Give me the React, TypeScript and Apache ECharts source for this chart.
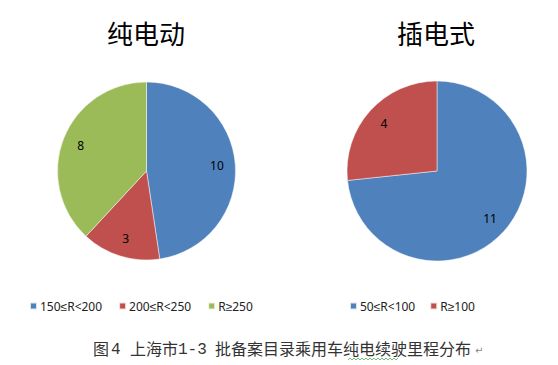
import React, { useEffect, useRef } from 'react';
import * as echarts from 'echarts';

const bevCategories = ['150≤R<200', '200≤R<250', 'R≥250'];
const bevValues = [10, 3, 8];
const phevCategories = ['50≤R<100', 'R≥100'];
const phevValues = [11, 4];
const bevColors = ['#4F81BD', '#C0504D', '#9BBB59'];
const phevColors = ['#4F81BD', '#C0504D'];
const titles = ['纯电动', '插电式'];
const captionParts = ['图', '4', '上海市', '1-3', '批备案目录乘用车纯电续驶里程分布'];

const CJK = '"Noto Sans CJK SC", "Noto Sans", sans-serif';
const MONO = '"Liberation Mono", "DejaVu Sans Mono", monospace';

function pieSeries(name: string, cats: string[], vals: number[], colors: string[], center: number[], r: number) {
  const data = cats.map((c, i) => ({ name: c, value: vals[i], itemStyle: { color: colors[i] } }));
  return [
    {
      type: 'pie',
      name,
      center,
      radius: r,
      startAngle: 90,
      clockwise: true,
      avoidLabelOverlap: false,
      label: { show: false },
      labelLine: { show: false },
      itemStyle: { borderColor: 'rgba(255,255,255,0.8)', borderWidth: 0.6 },
      emphasis: { disabled: true },
      data,
    },
    {
      type: 'pie',
      name: name + '-labels',
      center,
      radius: [r * 0.52, r],
      startAngle: 90,
      clockwise: true,
      silent: true,
      avoidLabelOverlap: false,
      label: {
        show: true,
        position: 'inside',
        formatter: '{c}',
        color: '#000',
        fontSize: 12,
        fontFamily: '"Noto Sans", sans-serif',
      },
      labelLine: { show: false },
      itemStyle: { color: 'rgba(0,0,0,0)', borderWidth: 0 },
      emphasis: { disabled: true },
      data: cats.map((c, i) => ({ name: c, value: vals[i] })),
    },
  ];
}

export default function App() {
  const ref = useRef<HTMLDivElement>(null);
  useEffect(() => {
    if (!ref.current) return;
    const chart = echarts.init(ref.current, null, { renderer: 'svg' });
    const wave: number[][] = [];
    for (let i = 0; i <= 25; i++) {
      wave.push([348 + i * 2, 359 + (i % 2 === 0 ? 1 : -1)]);
    }
    const captionX = [93, 111, 130, 178, 215];
    const captionY = [348, 350, 348, 350, 348];
    const captionFont = [CJK, MONO, CJK, MONO, CJK];
    const legendText = { fontSize: 12, color: '#222', fontFamily: '"Noto Sans", sans-serif', padding: [0, 0, 0, -2] };
    chart.setOption({
      animation: false,
      backgroundColor: '#fff',
      legend: [
        {
          data: bevCategories,
          left: 29,
          top: 300,
          padding: 0,
          icon: 'rect',
          itemWidth: 7,
          itemHeight: 7,
          itemGap: 16,
          selectedMode: false,
          textStyle: legendText,
        },
        {
          data: phevCategories,
          left: 349,
          top: 300,
          padding: 0,
          icon: 'rect',
          itemWidth: 7,
          itemHeight: 7,
          itemGap: 14,
          selectedMode: false,
          textStyle: legendText,
        },
      ],
      series: [
        ...pieSeries('纯电动', bevCategories, bevValues, bevColors, [146.5, 171], 89),
        ...pieSeries('插电式', phevCategories, phevValues, phevColors, [437, 171], 90),
      ],
      graphic: [
        {
          type: 'text',
          x: 146,
          y: 32,
          style: { text: titles[0], fontSize: 26, fontFamily: CJK, fill: '#000', textAlign: 'center', textVerticalAlign: 'middle' },
        },
        {
          type: 'text',
          x: 436,
          y: 32,
          style: { text: titles[1], fontSize: 26, fontFamily: CJK, fill: '#000', textAlign: 'center', textVerticalAlign: 'middle' },
        },
        ...captionParts.map((t, i) => ({
          type: 'text',
          x: captionX[i],
          y: captionY[i],
          style: { text: t, fontSize: 16, fontFamily: captionFont[i], fill: '#333', textAlign: 'left', textVerticalAlign: 'middle' },
        })),
        {
          type: 'text',
          x: 475,
          y: 350,
          style: { text: '↵', fontSize: 10, fontFamily: '"DejaVu Sans", sans-serif', fill: '#888', textAlign: 'left', textVerticalAlign: 'middle' },
        },
        {
          type: 'polyline',
          shape: { points: wave },
          style: { stroke: '#4caf50', lineWidth: 0.8, fill: 'none' },
        },
      ],
    });
    return () => chart.dispose();
  }, []);
  return <div ref={ref} style={{ position: 'fixed', left: 0, top: 0, width: 558, height: 365 }} />;
}
